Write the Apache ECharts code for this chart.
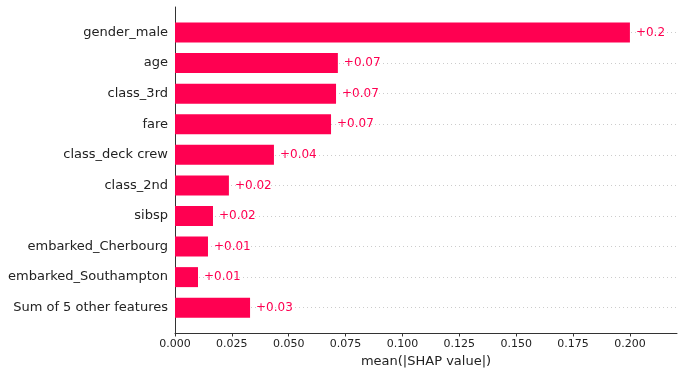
<!DOCTYPE html>
<html>
<head>
<meta charset="utf-8">
<script src="https://cdn.jsdelivr.net/npm/echarts@6/dist/echarts.min.js"></script>
<style>html,body{margin:0;padding:0;background:#fff}#c{width:684px;height:374px}</style>
</head>
<body>
<div id="c"></div>
<script>
const categories = ["gender_male","age","class_3rd","fare","class_deck crew","class_2nd","sibsp","embarked_Cherbourg","embarked_Southampton","Sum of 5 other features"];
const values = [0.2000,0.0716,0.0708,0.0686,0.0435,0.0237,0.0167,0.0145,0.0101,0.0330];
const axisName = "mean(|SHAP value|)";
const xMin = 0, xMax = 0.2207, xStep = 0.025;

const font = "DejaVu Sans";
const red = "#ff0051";
const chart = echarts.init(document.getElementById('c'), null, {renderer:'canvas'});
chart.setOption({
  animation:false,
  backgroundColor:'#fff',
  grid:[
    {left:175, right:7, top:7, bottom:41},
    {left:175, right:7, top:32.5, bottom:66.3}
  ],
  xAxis:[
    {gridIndex:0, type:'value', min:xMin, max:xMax, interval:xStep,
     axisLine:{show:true, lineStyle:{color:'#333', width:1}},
     axisTick:{show:true, length:3.5, lineStyle:{color:'#333'}},
     axisLabel:{fontFamily:font, fontSize:11, color:'#222', margin:6,
       showMaxLabel:false, formatter:v=>v.toFixed(3)},
     splitLine:{show:false},
     name:axisName, nameLocation:'middle', nameGap:20,
     nameTextStyle:{fontFamily:font, fontSize:13, color:'#222'}},
    {gridIndex:1, type:'value', min:xMin, max:xMax, show:false, splitLine:{show:false}}
  ],
  yAxis:[
    {gridIndex:0, type:'value', min:0, max:1,
     axisLine:{show:true, lineStyle:{color:'#333', width:1}},
     axisTick:{show:false}, axisLabel:{show:false}, splitLine:{show:false}},
    {gridIndex:1, type:'category', data:categories, inverse:true, boundaryGap:false,
     axisLine:{show:false}, axisTick:{show:false},
     axisLabel:{fontFamily:font, fontSize:13, color:'#222', margin:7},
     splitLine:{show:true, lineStyle:{color:'#cccccc', type:[1,3], width:1}}}
  ],
  series:[
    {type:'bar', xAxisIndex:1, yAxisIndex:1, data:values, barWidth:20,
     itemStyle:{color:red},
     label:{show:true, position:'right', distance:6, fontFamily:font, fontSize:12, color:red,
       formatter:p=>'+'+Number(p.value.toFixed(2))}}
  ]
});
</script>
</body>
</html>
